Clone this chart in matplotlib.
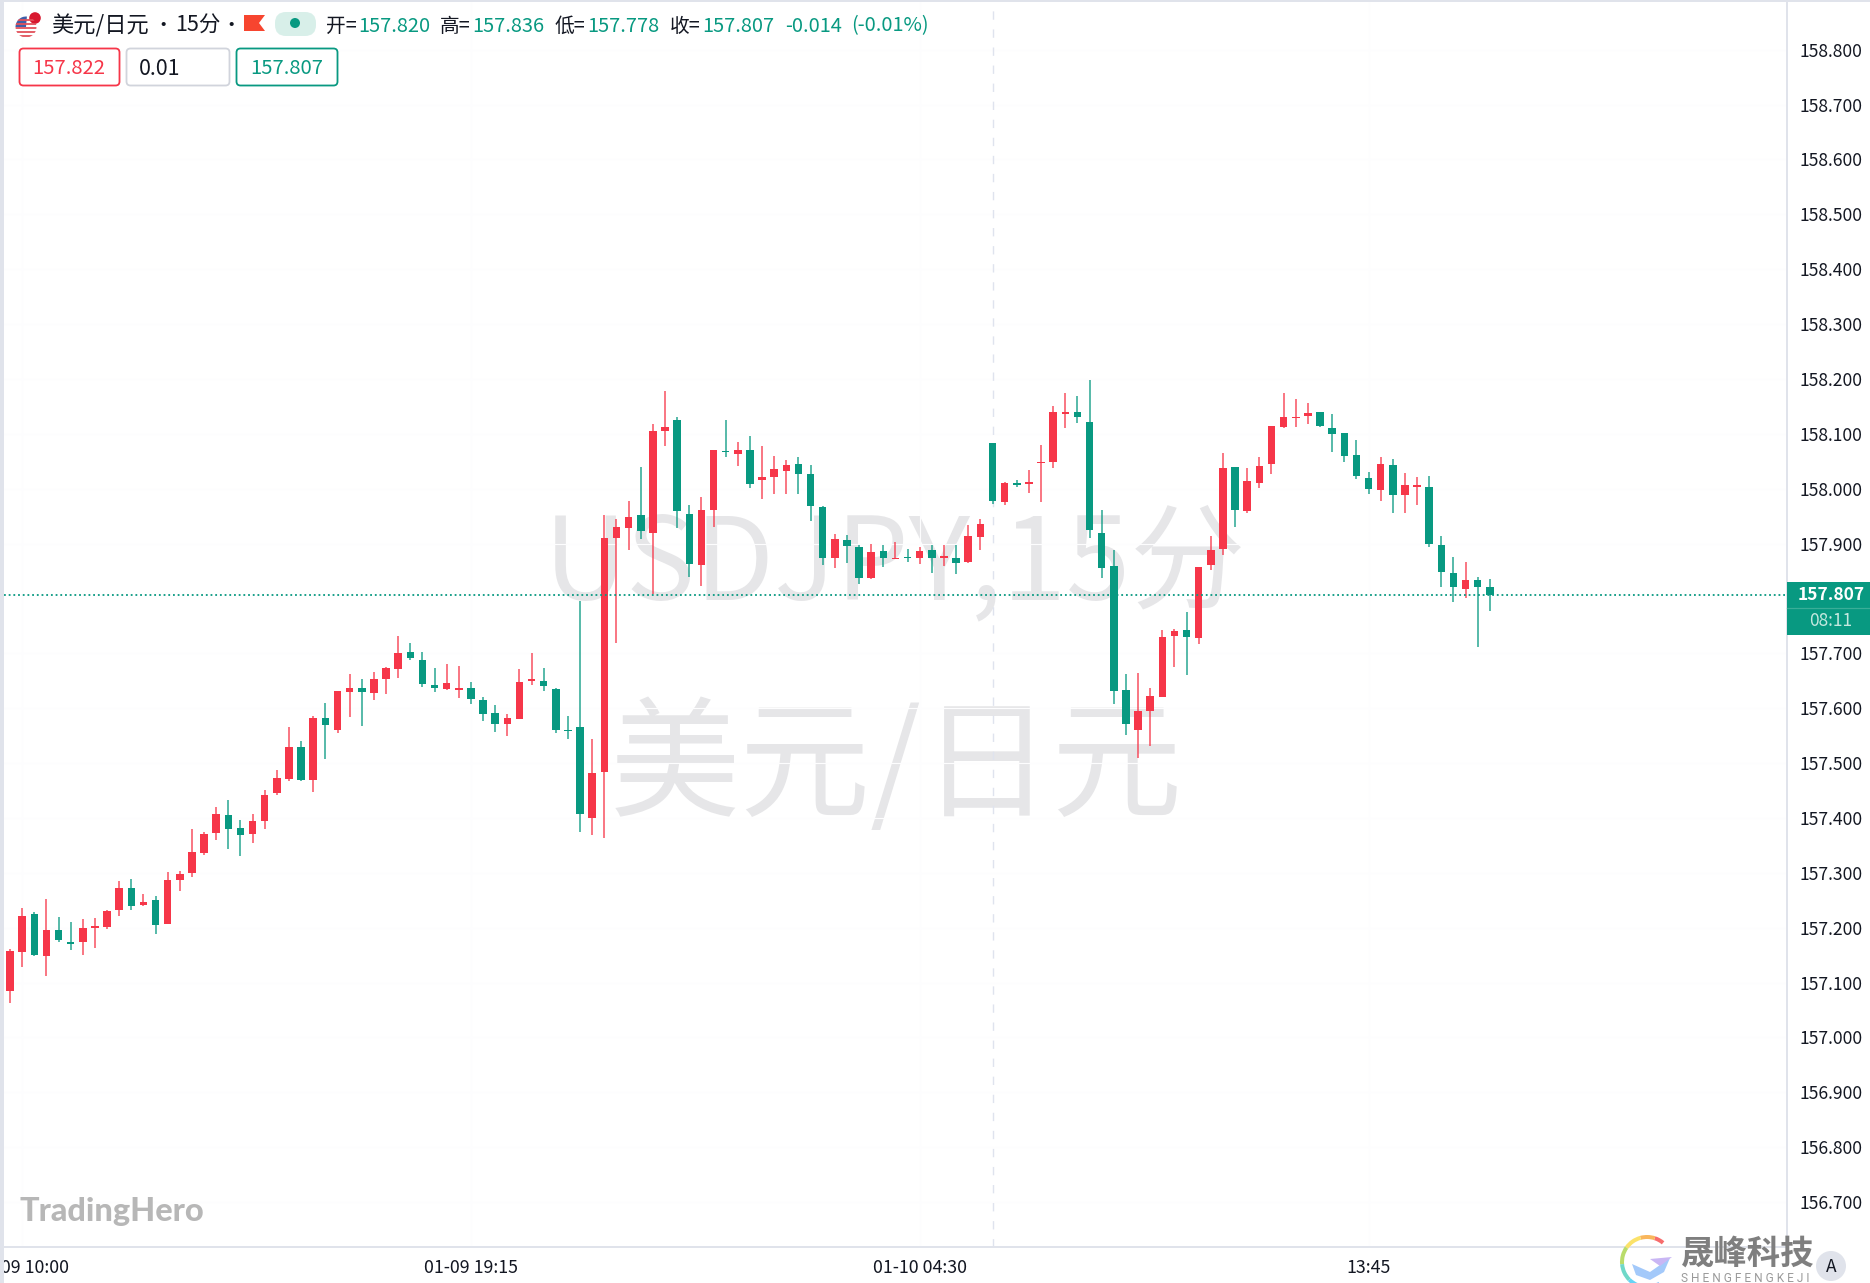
import matplotlib
matplotlib.use("Agg")
import matplotlib.pyplot as plt
from matplotlib.patches import Circle, FancyBboxPatch, Polygon, Rectangle, Wedge

plt.rcParams["font.family"] = ["Noto Sans CJK SC", "DejaVu Sans"]

opens = [
    157.085, 157.155, 157.225, 157.149, 157.195, 157.173, 157.173, 157.200, 157.201, 157.233,
    157.272, 157.241, 157.251, 157.207, 157.286, 157.299, 157.336, 157.372, 157.405, 157.381,
    157.371, 157.395, 157.445, 157.471, 157.529, 157.470, 157.583, 157.561, 157.630, 157.637,
    157.628, 157.654, 157.672, 157.702, 157.688, 157.642, 157.635, 157.634, 157.637, 157.614,
    157.591, 157.572, 157.581, 157.649, 157.650, 157.635, 157.561, 157.566, 157.400, 157.483,
    157.911, 157.928, 157.952, 157.919, 158.106, 158.125, 157.954, 157.861, 157.961, 158.069,
    158.064, 158.071, 158.015, 158.021, 158.032, 158.045, 158.026, 157.967, 157.874, 157.907,
    157.894, 157.838, 157.887, 157.872, 157.876, 157.873, 157.888, 157.874, 157.874, 157.866,
    157.912, 158.084, 157.975, 158.011, 158.009, 158.046, 158.049, 158.137, 158.140, 158.122,
    157.920, 157.860, 157.633, 157.561, 157.594, 157.621, 157.731, 157.743, 157.727, 157.861,
    157.890, 158.039, 157.959, 158.011, 158.045, 158.113, 158.128, 158.133, 158.140, 158.110,
    158.102, 158.061, 158.020, 157.997, 158.044, 157.988, 158.004, 158.004, 157.898, 157.847,
    157.817, 157.833, 157.820,
]
highs = [
    157.161, 157.235, 157.229, 157.253, 157.219, 157.210, 157.215, 157.217, 157.233, 157.285,
    157.289, 157.261, 157.257, 157.301, 157.303, 157.380, 157.375, 157.419, 157.433, 157.396,
    157.407, 157.451, 157.487, 157.565, 157.541, 157.585, 157.609, 157.631, 157.662, 157.654,
    157.666, 157.675, 157.732, 157.718, 157.702, 157.673, 157.680, 157.677, 157.647, 157.620,
    157.605, 157.589, 157.671, 157.700, 157.673, 157.636, 157.586, 157.795, 157.544, 157.952,
    157.944, 157.978, 158.040, 158.118, 158.178, 158.130, 157.970, 157.984, 158.071, 158.125,
    158.085, 158.096, 158.078, 158.060, 158.052, 158.058, 158.044, 157.968, 157.917, 157.916,
    157.897, 157.899, 157.897, 157.902, 157.890, 157.893, 157.897, 157.897, 157.897, 157.933,
    157.944, 158.084, 158.012, 158.015, 158.034, 158.079, 158.151, 158.175, 158.169, 158.198,
    157.961, 157.888, 157.662, 157.665, 157.636, 157.743, 157.744, 157.776, 157.857, 157.914,
    158.065, 158.039, 158.037, 158.058, 158.114, 158.175, 158.163, 158.156, 158.140, 158.136,
    158.102, 158.088, 158.030, 158.057, 158.054, 158.028, 158.021, 158.023, 157.914, 157.876,
    157.867, 157.839, 157.836,
]
lows = [
    157.063, 157.129, 157.149, 157.111, 157.174, 157.160, 157.151, 157.163, 157.198, 157.222,
    157.233, 157.239, 157.189, 157.207, 157.266, 157.293, 157.333, 157.359, 157.343, 157.331,
    157.355, 157.379, 157.441, 157.468, 157.467, 157.447, 157.508, 157.554, 157.584, 157.568,
    157.614, 157.625, 157.655, 157.687, 157.639, 157.629, 157.633, 157.619, 157.607, 157.576,
    157.557, 157.550, 157.581, 157.643, 157.632, 157.555, 157.543, 157.375, 157.368, 157.363,
    157.719, 157.888, 157.909, 157.808, 158.078, 157.929, 157.839, 157.823, 157.931, 158.058,
    158.042, 158.001, 157.982, 157.991, 157.990, 157.990, 157.941, 157.861, 157.856, 157.865,
    157.827, 157.835, 157.857, 157.872, 157.866, 157.863, 157.846, 157.860, 157.845, 157.865,
    157.888, 157.973, 157.970, 158.003, 157.992, 157.975, 158.037, 158.110, 158.120, 157.910,
    157.837, 157.607, 157.551, 157.509, 157.531, 157.620, 157.675, 157.661, 157.717, 157.852,
    157.879, 157.931, 157.955, 158.002, 158.026, 158.110, 158.113, 158.117, 158.112, 158.066,
    158.049, 158.018, 157.991, 157.978, 157.956, 157.955, 157.970, 157.894, 157.821, 157.794,
    157.801, 157.711, 157.778,
]
closes = [
    157.157, 157.221, 157.151, 157.196, 157.177, 157.170, 157.199, 157.203, 157.231, 157.273,
    157.240, 157.247, 157.205, 157.287, 157.297, 157.337, 157.371, 157.407, 157.379, 157.369,
    157.394, 157.442, 157.473, 157.529, 157.470, 157.583, 157.569, 157.631, 157.637, 157.630,
    157.654, 157.673, 157.701, 157.691, 157.644, 157.637, 157.646, 157.637, 157.616, 157.589,
    157.571, 157.582, 157.648, 157.653, 157.640, 157.560, 157.559, 157.407, 157.481, 157.910,
    157.930, 157.948, 157.923, 158.105, 158.112, 157.959, 157.863, 157.962, 158.071, 158.066,
    158.070, 158.009, 158.022, 158.035, 158.044, 158.026, 157.968, 157.874, 157.908, 157.896,
    157.837, 157.885, 157.874, 157.874, 157.873, 157.887, 157.873, 157.877, 157.865, 157.913,
    157.936, 157.978, 158.011, 158.007, 158.012, 158.049, 158.140, 158.140, 158.131, 157.925,
    157.855, 157.631, 157.572, 157.594, 157.623, 157.729, 157.741, 157.729, 157.857, 157.888,
    158.038, 157.961, 158.014, 158.042, 158.114, 158.130, 158.130, 158.138, 158.114, 158.100,
    158.060, 158.023, 157.999, 158.045, 157.988, 158.006, 158.006, 157.900, 157.848, 157.820,
    157.834, 157.821, 157.807,
]
# 157.800 sits behind the last-price label in the reference, so it has no tick here
price_ticks = [156.7, 156.8, 156.9, 157.0, 157.1, 157.2, 157.3, 157.4, 157.5, 157.6, 157.7,
               157.9, 158.0, 158.1, 158.2, 158.3, 158.4, 158.5, 158.6, 158.7, 158.8]
time_ticks = [1, 38, 75, 112]
time_labels = ["01-09 10:00", "01-09 19:15", "01-10 04:30", "13:45"]
session_break = 81
last_price = 157.807

W, H = 1870, 1283
RED = "#f63649"
GREEN = "#089981"
BORDER = "#e0e3eb"

fig = plt.figure(figsize=(W / 100, H / 100), dpi=100)

# main chart, pixel box 4..1787 x 2..1247
ax = fig.add_axes([4 / W, 1 - 1247 / H, 1783 / W, 1245 / H])
ax.set_xlim(-0.495, 146.5)
ax.set_ylim(156.618, 158.887)
ax.set_facecolor("white")
for s in ["top", "left"]:
    ax.spines[s].set_visible(False)
for s in ["bottom", "right"]:
    ax.spines[s].set_color(BORDER)
    ax.spines[s].set_linewidth(1.4)

ax.yaxis.tick_right()
ax.set_yticks(price_ticks)
ax.set_yticklabels(["%.3f" % p for p in price_ticks])
ax.set_xticks(time_ticks)
ax.set_xticklabels(time_labels)
ax.tick_params(axis="y", length=0, pad=9, labelsize=12.6, colors="#131722")
ax.tick_params(axis="x", length=0, pad=8.5, labelsize=12.8, colors="#131722")
ax.grid(True, color="#fdfdfe", linewidth=0.8, zorder=0)
ax.set_axisbelow(True)

# watermarks
ax.text(895 / W, 1 - 566 / H, "USDJPY,15分", transform=fig.transFigure, fontsize=83,
        color="#e6e6e8", ha="center", va="center", zorder=0.5)
ax.text(896 / W, 1 - 770 / H, "美元/日元", transform=fig.transFigure, fontsize=94,
        color="#e6e6e8", ha="center", va="center", zorder=0.5)

ax.axvline(session_break, color="#dfe3ee", linewidth=1, linestyle=(0, (6, 7)), zorder=1)
ax.axhline(last_price, color=GREEN, linewidth=1.3, linestyle=(0, (1, 1.6)), zorder=4)

# candles
idx = list(range(len(opens)))
colors = [RED if c >= o else GREEN for o, c in zip(opens, closes)]
ax.vlines(idx, lows, highs, colors=colors, linewidth=1.2, alpha=0.8, zorder=2)
ax.bar(idx, [abs(c - o) for o, c in zip(opens, closes)],
       bottom=[min(o, c) for o, c in zip(opens, closes)],
       width=0.62, color=colors, linewidth=0, zorder=3)

# overlay in pixel coordinates for the platform chrome
ui = fig.add_axes([0, 0, 1, 1], zorder=5)
ui.set_xlim(0, W)
ui.set_ylim(H, 0)
ui.axis("off")

ui.add_patch(Rectangle((0, 0), 4, H, color=BORDER, linewidth=0))
ui.add_patch(Rectangle((0, 0), W, 2, color=BORDER, linewidth=0))

# price label
ui.add_patch(Rectangle((1787, 582), 83, 53, color=GREEN, linewidth=0))
ui.plot([1787, 1870], [608, 608], color="#3aae98", linewidth=0.9)
ui.text(1831, 595, "157.807", color="white", fontsize=12.5, fontweight="bold", ha="center", va="center")
ui.text(1831, 621, "08:11", color="#c4e8df", fontsize=12.5, ha="center", va="center")

# header
flag = Circle((26, 27), 10.5, color="white", linewidth=0)
ui.add_patch(flag)
for y in [20, 24, 28, 32, 36]:
    ui.plot([16, 36], [y, y], color="#e2505a", linewidth=1.3, clip_path=flag)
ui.add_patch(Wedge((26, 27), 10.5, 180, 275, color="#3f5fa8", linewidth=0))
ui.add_patch(Circle((35, 18), 6.5, color="#d8182f", ec="white", linewidth=1))

hdr = 26
ui.text(51, hdr, "美元/日元", fontsize=16, color="#131722", ha="left", va="center")
ui.text(163, hdr, "•", fontsize=14, color="#131722", ha="center", va="center")
ui.text(175, hdr, "15分", fontsize=15.5, color="#131722", ha="left", va="center")
ui.text(231, hdr, "•", fontsize=14, color="#131722", ha="center", va="center")
ui.add_patch(Polygon([(244, 15), (265, 15), (259, 23), (265, 31), (244, 31)], color="#f7452f", linewidth=0))
ui.add_patch(FancyBboxPatch((275, 12), 41, 24, boxstyle="round,pad=0,rounding_size=11",
                            facecolor="#d8efe9", edgecolor="none", linewidth=0))
ui.add_patch(Circle((295, 23), 5, color=GREEN, linewidth=0))
labels = [(326, "开="), (440, "高="), (555, "低="), (670, "收=")]
values = [(358, "157.820"), (472, "157.836"), (587, "157.778"), (702, "157.807"), (785, "-0.014"), (851, "(-0.01%)")]
for x, t in labels:
    ui.text(x, hdr, t, fontsize=14.2, color="#131722", ha="left", va="center")
for x, t in values:
    ui.text(x, hdr, t, fontsize=14.4, color=GREEN, ha="left", va="center")

# order boxes
boxes = [(19, 119, RED, "157.822", RED), (126, 229, "#d1d4dc", "0.01", "#131722"), (236, 337, GREEN, "157.807", GREEN)]
for x0, x1, ec, t, tc in boxes:
    ui.add_patch(FancyBboxPatch((x0 + 0.5, 48.5), x1 - x0, 37, boxstyle="round,pad=0,rounding_size=4",
                                facecolor="white", edgecolor=ec, linewidth=1.3))
    if t == "0.01":
        ui.text(139, 69, t, fontsize=15.4, color=tc, ha="left", va="center")
    else:
        ui.text((x0 + x1) / 2, 69, t, fontsize=14.6, color=tc, ha="center", va="center")

# logos
ui.text(19, 1212, "TradingHero", family="Lato", fontweight="black", fontsize=23.4, color="#b7b7b7",
        ha="left", va="center")
c = (1647, 1262)
arcs = [(-72, -50, "#f76c6c"), (-105, -72, "#f9b65c"), (-145, -105, "#fbe26a"), (-185, -145, "#b9dc6b"),
        (135, 175, "#6fd8c8"), (90, 135, "#66d3f5"), (60, 90, "#8cc4fb")]
for t0, t1, col in arcs:
    ui.add_patch(Wedge(c, 27, t0, t1, width=4, color=col, linewidth=0))
ui.add_patch(Polygon([(1632, 1264), (1650, 1272), (1670, 1258), (1664, 1272), (1650, 1280), (1636, 1275)],
                     color="#a3c9fa", linewidth=0))
ui.add_patch(Polygon([(1650, 1259), (1672, 1257), (1660, 1266)], color="#c9b6f4", linewidth=0))
ui.text(1748, 1254, "晟峰科技", fontsize=24, fontweight="bold", color="#7f7f7f", ha="center", va="center")
ui.text(1745, 1279, "S H E N G F E N G K E J I", fontsize=8.6, color="#9a9a9a", ha="center", va="center",
        family="Roboto")
ui.add_patch(Circle((1831, 1266), 15, color=BORDER, linewidth=0))
ui.text(1831, 1267, "A", fontsize=12.5, color="#131722", ha="center", va="center")

fig.savefig("out.png", dpi=100)
